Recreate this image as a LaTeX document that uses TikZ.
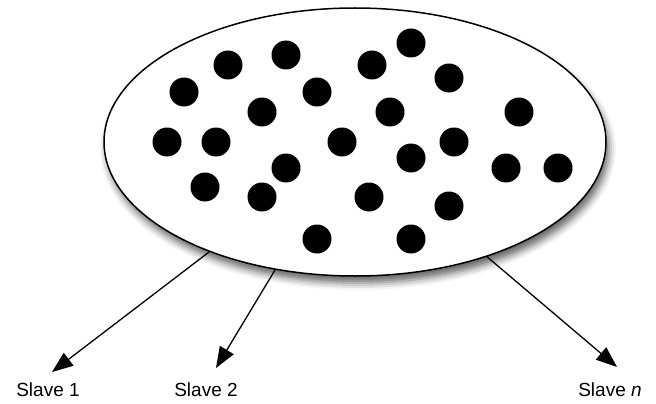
\documentclass[tikz,border=0pt]{standalone}
\usepackage{fontspec}
\setmainfont{Liberation Sans}
\usetikzlibrary{arrows.meta,shapes.geometric,shadows.blur}
\begin{document}
\begin{tikzpicture}[
    x=1pt,y=-1pt,
    font=\fontsize{19}{22}\selectfont,
    pool/.style={ellipse,draw,line width=1.5pt,fill=white,inner sep=0pt,
      minimum width=502pt,minimum height=268pt,
      blur shadow={shadow xshift=3pt,shadow yshift=-7pt,shadow blur radius=7pt,shadow opacity=60}},
    job/.style={circle,fill=black,inner sep=0pt,minimum size=29pt},
    slave/.style={inner sep=0pt},
    feed/.style={line width=1.3pt,-{Triangle[length=21pt,width=16pt]}}
  ]
    \path[use as bounding box] (0,0) rectangle (656,404);
    \node[pool] (pool) at (355,142) {};
    % jobs waiting in the pool
    \foreach \px/\py [count=\i] in {184/92,228/65,286/55,372/65,411/43,449/78,
        317/92,262/112,390/112,519/112,167/142,216/142,342/142,454/142,
        411/158,286/168,506/168,558/168,205/187,262/197,369/197,449/206,
        317/239,411/239}
      \node[job] (d\i) at (\px,\py) {};
    \node[slave] (s1) at (48,390) {Slave 1};
    \node[slave] (s2) at (206,390) {Slave 2};
    \node[slave] (sn) at (610,390) {Slave \textit{n}};
    \coordinate (t1) at (52,372);
    \coordinate (t2) at (216,368);
    \coordinate (tn) at (617,367);
    \draw[feed] (pool.217) -- (t1);
    \draw[feed] (pool.238.6) -- (t2);
    \draw[feed] (pool.319.9) -- (tn);
  \end{tikzpicture}
\end{document}
